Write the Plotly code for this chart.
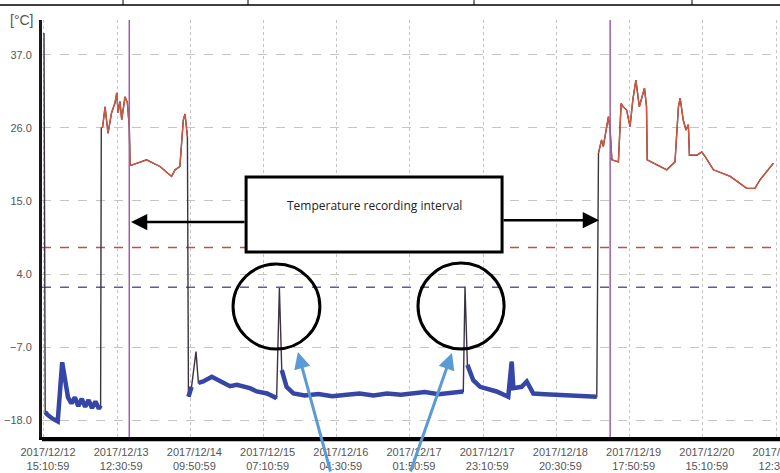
import plotly.graph_objects as go
import pandas as pd

# ---------------- data ----------------
start = pd.Timestamp("2017-12-12 15:10:59")
tick_labels_start = "2017-12-12 15:10:59"
tick_step_ms = (21 * 60 + 20) * 60 * 1000   # 21h20m between labels

# hours after start, temperature in °C
hours = [
    0.0, 0.35, 1.0, 2.5, 4.0, 5.3, 6.0, 7.0, 8.0, 9.0, 10.0, 11.0, 12.0, 13.0, 14.0, 15.0, 16.0, 16.5,
    16.7, 17.1, 17.8, 18.65, 19.7, 20.7, 21.2, 21.6, 22.15, 22.65, 23.6, 24.3, 24.85,
    25.1, 25.55, 29.9, 33.8, 37.2, 38.2, 39.6, 40.6, 41.1, 41.8,
    42.1, 43.0, 44.3, 45.0, 46.4, 48.9, 51.3, 54.2, 56.2, 60.0, 62.0, 65.0, 67.8,
    68.6, 69.3, 70.7, 72.7, 76.0, 80.0, 84.0, 88.2, 92.0, 96.0, 100.0, 104.0, 107.5, 111.0, 115.0, 119.0, 122.2,
    122.7, 123.4, 125.1, 127.1, 131.9, 135.3, 136.3, 136.8, 139.2, 140.7, 142.6, 146.0, 151.4, 156.0, 161.1,
    161.6, 162.5, 163.0, 164.0, 164.5, 165.0, 165.5, 167.4, 168.2, 168.8, 169.8, 170.8, 171.6, 172.5, 173.5,
    175.0, 175.6, 175.8, 178.6, 181.5, 183.9, 184.9, 185.4, 186.3, 187.1, 187.8, 188.1, 190.3, 191.7, 192.7,
    195.1, 200.0, 204.8, 207.2, 208.7, 212.6,
]
temps = [
    40.3, -16.8, -17.2, -17.8, -18.2, -9.3, -12.0, -14.6, -15.5, -14.6, -15.9, -14.8, -16.0, -15.0, -16.2, -15.2, -16.3, -15.8,
    26.0, 26.2, 29.2, 25.2, 28.3, 29.8, 31.3, 28.3, 30.0, 27.2, 30.7, 29.8, 26.2,
    20.4, 20.4, 21.2, 20.2, 18.7, 19.7, 20.2, 27.2, 28.1, 24.7,
    -14.5, -13.0, -7.7, -12.4, -12.2, -11.5, -12.2, -12.9, -12.7, -13.2, -13.7, -14.0, -14.7,
    1.9, -10.5, -13.0, -14.0, -14.3, -14.1, -14.4, -14.2, -14.0, -14.3, -14.0, -14.2, -14.0, -13.8, -14.1, -13.8, -13.7,
    2.1, -9.7, -12.0, -13.0, -13.7, -14.5, -9.2, -13.2, -13.0, -12.2, -14.0, -14.1, -14.2, -14.4, -14.5,
    22.2, 24.2, 23.2, 26.2, 27.7, 25.7, 21.2, 20.9, 29.7, 29.2, 28.7, 26.2, 30.2, 33.2, 29.2,
    32.0, 29.2, 21.2, 20.4, 19.7, 20.9, 29.2, 30.5, 27.2, 25.7, 26.5, 21.9, 21.9, 22.4, 21.7,
    19.7, 18.7, 16.9, 16.9, 18.2, 20.7,
]
upper_limit = 8.0
lower_limit = 2.0
interval_marks = [24.86, 165.0]      # hours of the two purple markers
y_ticks = [-18.0, -7.0, 4.0, 15.0, 26.0, 37.0]

# ---------------------------------------------------------------
def at(h):
    return start + pd.Timedelta(hours=h)

times = [at(h) for h in hours]
warm = [t if t >= 15 else None for t in temps]
cold = [t if t <= -8 else None for t in temps]

fig = go.Figure()
fig.add_trace(go.Scatter(x=times, y=temps, mode="lines",
                         line=dict(color="#3b3342", width=1.4), hoverinfo="skip"))
fig.add_trace(go.Scatter(x=times, y=warm, mode="lines", connectgaps=False,
                         line=dict(color="#d9553c", width=1.3)))
fig.add_trace(go.Scatter(x=times, y=cold, mode="lines", connectgaps=False,
                         line=dict(color="#3646a6", width=4.5)))

shapes = []
# limit lines
shapes.append(dict(type="line", xref="paper", x0=0, x1=1, yref="y", y0=upper_limit, y1=upper_limit,
                   line=dict(color="#c0504d", width=1.5, dash="dash"), layer="below"))
shapes.append(dict(type="line", xref="paper", x0=0, x1=1, yref="y", y0=lower_limit, y1=lower_limit,
                   line=dict(color="#5a5f90", width=1.5, dash="dash"), layer="below"))
# purple interval markers
for h in interval_marks:
    shapes.append(dict(type="line", xref="x", x0=at(h), x1=at(h), yref="paper", y0=0, y1=1,
                       line=dict(color="#9b5fa5", width=1.5)))
# annotation box
shapes.append(dict(type="rect", xref="x", x0=at(58.9), x1=at(133.5), yref="y", y0=7.3, y1=18.6,
                   fillcolor="white", line=dict(color="black", width=3)))
# circles
shapes.append(dict(type="circle", xref="x", x0=at(55.1), x1=at(80.4), yref="y", y0=-7.3, y1=5.5,
                   line=dict(color="black", width=3)))
shapes.append(dict(type="circle", xref="x", x0=at(109.0), x1=at(134.1), yref="y", y0=-7.3, y1=5.65,
                   line=dict(color="black", width=3)))
# double bottom axis line
shapes.append(dict(type="line", xref="paper", x0=0, x1=1, yref="paper", y0=-3.5 / 417, y1=-3.5 / 417,
                   line=dict(color="black", width=1.5)))
# remnant table border at the very top
top_y = 1 + 15 / 417
shapes.append(dict(type="line", xref="paper", x0=-42 / 738, x1=1, yref="paper", y0=top_y, y1=top_y,
                   line=dict(color="black", width=1.5)))
for px in [123, 248, 474, 692]:
    xp = (px - 42) / 738
    shapes.append(dict(type="line", xref="paper", x0=xp, x1=xp, yref="paper", y0=top_y, y1=1 + 20 / 417,
                       line=dict(color="black", width=1)))

annotations = [
    dict(text="[°C]", xref="paper", yref="paper", x=-34 / 738, y=1.0, xanchor="left", yanchor="middle",
         showarrow=False, font=dict(size=14, color="#555", family="Liberation Sans")),
    dict(text="Temperature recording interval", xref="x", yref="y", x=at(96.2), y=14.25,
         showarrow=False, font=dict(size=12, color="#222", family="Open Sans")),
    # black arrows from the box
    dict(text="", xref="x", yref="y", x=at(25.36), y=11.83, ax=115, ay=0, showarrow=True,
         arrowhead=2, arrowsize=1.3, arrowwidth=2.5, arrowcolor="black"),
    dict(text="", xref="x", yref="y", x=at(161.76), y=12.1, ax=-97, ay=0, showarrow=True,
         arrowhead=2, arrowsize=1.3, arrowwidth=2.5, arrowcolor="black"),
    # blue arrows to the circles
    dict(text="", xref="x", yref="y", x=at(74.0), y=-7.76, ax=33, ay=124, showarrow=True,
         arrowhead=2, arrowsize=1.1, arrowwidth=3, arrowcolor="#5b9bd5"),
    dict(text="", xref="x", yref="y", x=at(118.9), y=-7.9, ax=-42, ay=123, showarrow=True,
         arrowhead=2, arrowsize=1.1, arrowwidth=3, arrowcolor="#5b9bd5"),
]

fig.update_layout(
    width=780, height=473,
    margin=dict(l=42, r=0, t=20, b=36),
    plot_bgcolor="white", paper_bgcolor="white",
    showlegend=False,
    shapes=shapes, annotations=annotations,
    font=dict(family="Liberation Sans"),
)
fig.update_xaxes(
    type="date", range=[at(-0.58), at(214.5)],
    tick0=tick_labels_start, dtick=tick_step_ms,
    tickformat="%Y/%m/%d<br>%H:%M:%S",
    showgrid=True, gridcolor="#c4c4c4", griddash="dot", gridwidth=1,
    showline=True, linecolor="black", linewidth=2.5, ticks="",
    tickfont=dict(size=11, color="#555"), ticklabelshift=4, ticklabelstandoff=3,
    ticklabeloverflow="allow", automargin=False,
    zeroline=False,
)
fig.update_yaxes(
    range=[-20.56, 42.27], tickvals=y_ticks, tickformat=".1f",
    showgrid=True, gridcolor="#c4c4c4", griddash="dash", gridwidth=1,
    showline=True, linecolor="#1a1a1a", linewidth=3, ticks="",
    tickfont=dict(size=11, color="#555"), ticklabelstandoff=5, automargin=False,
    zeroline=False,
)

fig.write_html("out.html", config={"displayModeBar": False},
               post_script="document.body.style.margin='0px';document.body.style.overflow='hidden';")
